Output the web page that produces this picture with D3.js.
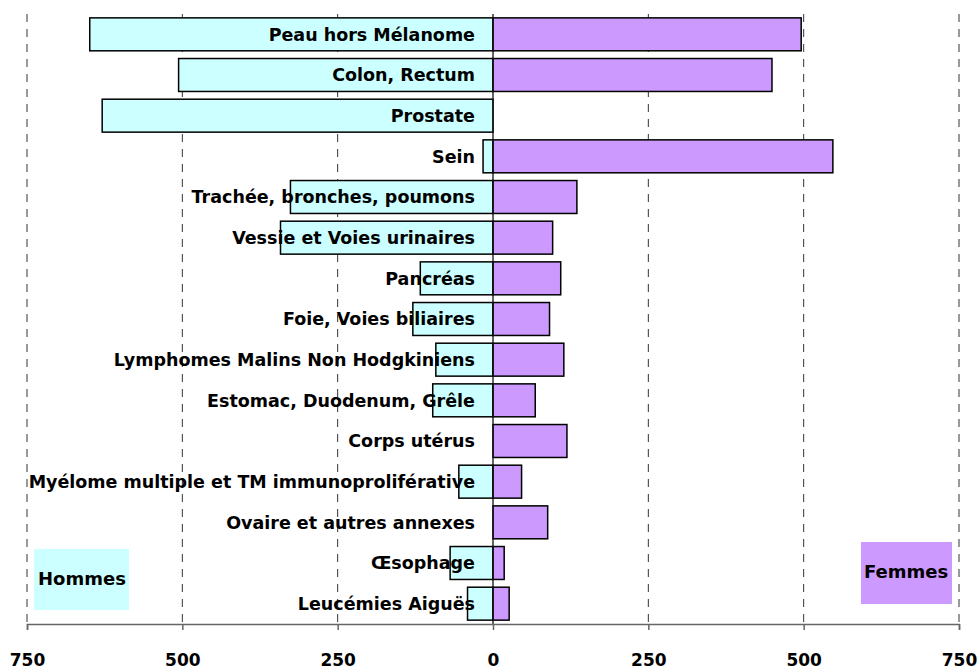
<!DOCTYPE html>
<html><head><meta charset="utf-8">
<script src="https://cdn.jsdelivr.net/npm/d3@7"></script>
<style>
body{margin:0;background:#fff;}
text{font-family:"Comic Sans MS","DejaVu Sans",sans-serif;font-weight:bold;fill:#000;}
</style></head>
<body><svg id="c" width="978" height="670"></svg>
<script>
const categories = ["Peau hors Mélanome","Colon, Rectum","Prostate","Sein","Trachée, bronches, poumons","Vessie et Voies urinaires","Pancréas","Foie, Voies biliaires","Lymphomes Malins Non Hodgkiniens","Estomac, Duodenum, Grêle","Corps utérus","Myélome multiple et TM immunoproliférative","Ovaire et autres annexes","Œsophage","Leucémies Aiguës"];
const hommes = [649,506,629,16,326,342,117,129,92,97,0,55,0,69,41];
const femmes = [496,449,0,547,135,96,109,91,114,68,119,46,88,18,26];
const tickValues = [-750,-500,-250,0,250,500,750];
const tickLabels = ["750","500","250","0","250","500","750"];

const svg = d3.select("#c");
const x = d3.scaleLinear().domain([-750,750]).range([27,959]);
const y = d3.scaleBand().domain(categories).range([14,624]).paddingInner(0.19).paddingOuter(0.095);

// gridlines
svg.append("g").selectAll("line").data(tickValues.filter(d=>d!==0)).join("line")
  .attr("x1",d=>x(d)).attr("x2",d=>x(d)).attr("y1",14).attr("y2",624)
  .attr("stroke","#333").attr("stroke-width",1).attr("stroke-dasharray","8,7");

// bars
const data = categories.map((c,i)=>({c,h:hommes[i],f:femmes[i]}));
svg.append("g").selectAll("rect").data(data.filter(d=>d.h>0)).join("rect")
  .attr("x",d=>x(-d.h)).attr("width",d=>x(0)-x(-d.h))
  .attr("y",d=>y(d.c)).attr("height",y.bandwidth())
  .attr("fill","#ccffff").attr("stroke","#000").attr("stroke-width",1.5);
svg.append("g").selectAll("rect").data(data.filter(d=>d.f>0)).join("rect")
  .attr("x",x(0)).attr("width",d=>x(d.f)-x(0))
  .attr("y",d=>y(d.c)).attr("height",y.bandwidth())
  .attr("fill","#cc99ff").attr("stroke","#000").attr("stroke-width",1.5);

// zero line
svg.append("line").attr("x1",x(0)).attr("x2",x(0)).attr("y1",14).attr("y2",624)
  .attr("stroke","#111").attr("stroke-width",1.3);

// labels
svg.append("g").selectAll("text").data(categories).join("text")
  .attr("x",475).attr("y",d=>y(d)+y.bandwidth()/2).attr("dy","0.37em")
  .attr("text-anchor","end").style("font-size","17.5px").text(d=>d);

// axis
const ax = svg.append("g").attr("transform","translate(0,624)")
  .call(d3.axisBottom(x).tickValues(tickValues).tickFormat((d,i)=>tickLabels[i]).tickSize(6).tickPadding(24));
ax.select(".domain").attr("stroke","#666").attr("stroke-width",1.5);
ax.selectAll(".tick line").attr("stroke","#666").attr("stroke-width",1.5);
ax.selectAll(".tick text").style("font-size","17px").style("font-family",'"Comic Sans MS","DejaVu Sans",sans-serif').style("font-weight","bold").attr("fill","#000");

// legend boxes
svg.append("rect").attr("x",34).attr("y",549).attr("width",95).attr("height",61).attr("fill","#ccffff");
svg.append("text").attr("x",38).attr("y",585).style("font-size","18px").text("Hommes");
svg.append("rect").attr("x",861).attr("y",542).attr("width",91).attr("height",62).attr("fill","#cc99ff");
svg.append("text").attr("x",864).attr("y",578).style("font-size","18px").text("Femmes");
</script></body></html>
